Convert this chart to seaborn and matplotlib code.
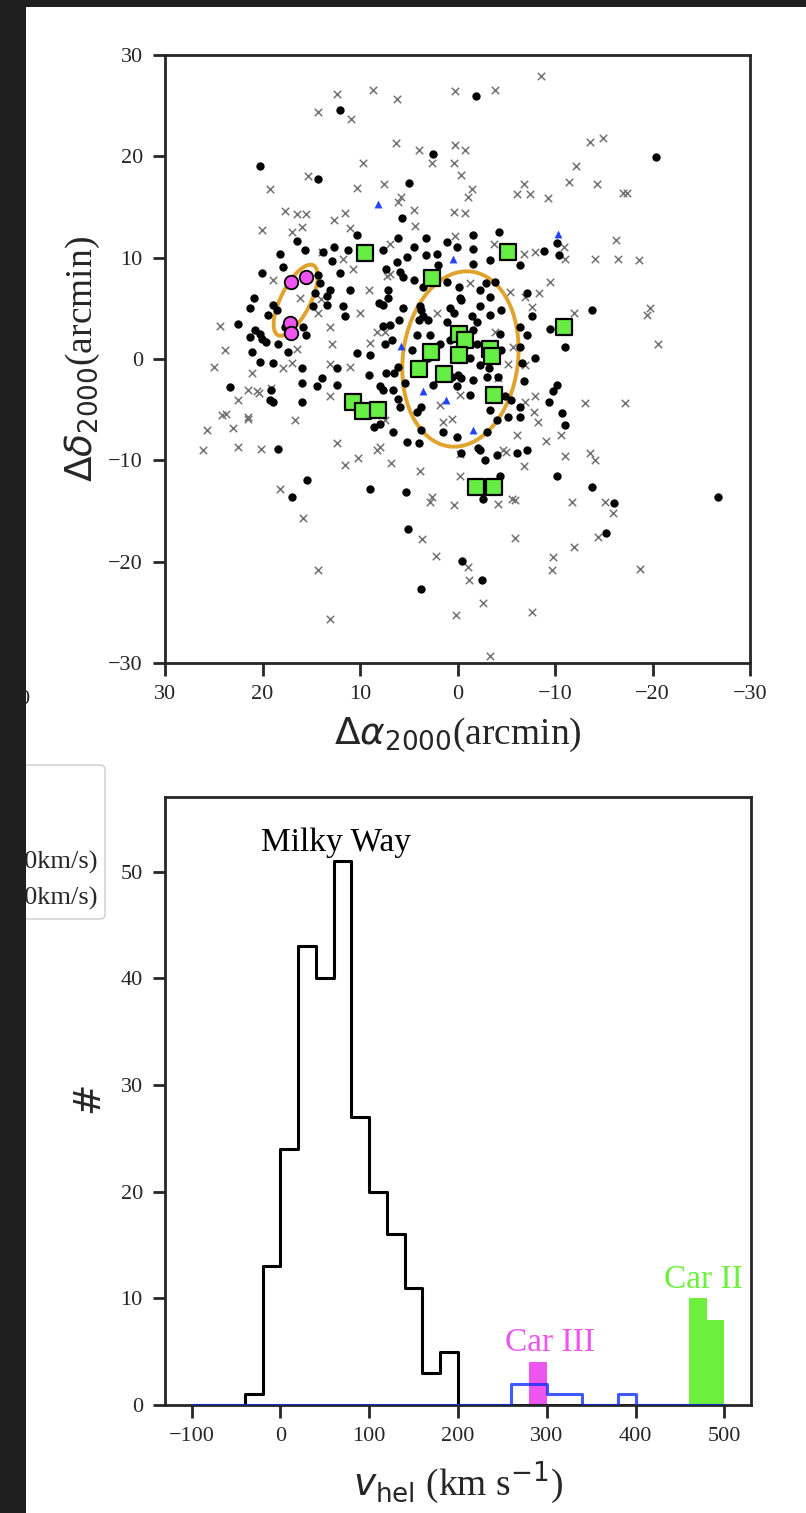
import numpy as np
import matplotlib
matplotlib.use("Agg")
import matplotlib.pyplot as plt
from matplotlib.patches import Ellipse, Rectangle, FancyBboxPatch
import seaborn as sns

# ---------------- top panel: sky positions (arcmin) ----------------
nonmember_xy = [
    (12.4, 26.2), (8.7, 26.5), (6.2, 25.7), (14.3, 24.4), (10.9, 23.7), (6.3, 21.3), (4.0, 20.6),
    (2.6, 19.3), (9.7, 19.3), (15.3, 18.1), (19.2, 16.8), (10.3, 16.9), (7.5, 17.3), (5.8, 16.0),
    (6.1, 15.5), (4.5, 14.7), (17.7, 14.6), (16.5, 14.3), (15.5, 14.3), (20.1, 12.7), (17.0, 12.5),
    (16.0, 13.0), (11.5, 14.4), (12.7, 13.7), (4.4, 13.1), (11.0, 12.9), (13.9, 10.6), (11.7, 9.9),
    (6.9, 11.3), (9.1, 6.8), (10.0, 4.5), (13.1, 3.2), (12.9, 1.5), (24.4, 3.3), (23.8, 0.9),
    (18.9, 7.8), (16.2, 6.0), (14.3, 4.5), (10.7, 8.9),
    (-8.6, 27.9), (0.3, 26.4), (-3.8, 26.5), (0.3, 21.1), (-0.8, 20.6), (0.4, 19.3), (-0.4, 18.2),
    (-1.5, 16.8), (-1.1, 16.0), (0.4, 14.5), (-0.8, 14.4), (-6.8, 17.3), (-6.1, 16.3), (-7.4, 16.3),
    (-9.3, 15.9), (-11.4, 17.5), (-12.2, 19.0), (-13.6, 21.4), (-14.9, 21.8), (-14.3, 17.3),
    (-17.0, 16.4), (-17.4, 16.4), (-16.3, 11.7), (-14.1, 9.9), (-16.5, 9.9), (-18.6, 9.8),
    (-3.7, 11.3), (0.3, 12.1), (-7.9, 10.6), (-11.0, 9.9), (-10.9, 11.1), (-6.8, 10.4),
    (-8.4, 6.5), (-9.5, 7.6), (-7.6, 5.1), (-11.9, 4.5), (-19.7, 5.0), (-19.4, 4.3), (-20.6, 1.5),
    (25.0, -0.8), (21.1, -1.4), (17.9, -0.9), (17.0, -0.4), (13.1, -0.5), (11.0, -0.8),
    (21.5, -3.1), (20.4, -3.4), (19.1, -2.9), (22.5, -4.0), (24.2, -5.5), (23.7, -5.4), (21.5, -5.9),
    (25.7, -7.0), (23.0, -6.8), (16.7, -6.0), (13.1, -3.7), (26.1, -9.0), (22.5, -8.7), (20.2, -8.9),
    (12.4, -8.3), (11.5, -10.5), (10.2, -9.8), (8.3, -9.0), (8.0, -8.7), (6.8, -10.3), (3.8, -11.1),
    (18.2, -12.8), (15.8, -15.7), (2.6, -13.6), (2.8, -14.1), (14.3, -20.8), (13.1, -25.7),
    (3.6, -17.8), (2.2, -19.4),
    (-7.9, -3.7), (-13.1, -4.3), (-17.2, -4.3), (-7.8, -5.2), (-8.3, -6.2), (-9.1, -8.1),
    (-10.6, -7.5), (-11.0, -9.6), (-13.6, -9.3), (-14.1, -10.0), (-6.8, -10.6), (-0.3, -11.5),
    (0.4, -14.4), (-4.2, -14.3), (-5.6, -13.8), (-5.9, -13.9), (-11.7, -14.1), (-15.1, -14.1),
    (-15.9, -15.2), (-14.4, -17.6), (-5.9, -17.7), (-11.9, -18.6), (-9.8, -19.5), (-9.7, -20.8),
    (-18.7, -20.7), (-1.1, -20.5), (-1.2, -21.8), (-2.6, -24.1), (0.2, -25.3), (-7.6, -25.0),
    (-3.3, -29.3), (-5.2, -0.5), (-5.0, -9.2), (-0.3, -9.4),
    (6.9, 8.4), (-1.3, 7.5), (-5.4, 6.6), (-6.9, 6.1), (7.4, 2.7), (-3.8, 2.7), (-5.7, 1.2),
    (-6.9, -0.6), (2.1, 4.5), (-4.2, -1.9), (-0.3, -3.6), (-6.9, -4.2), (1.5, -6.2), (0.6, -5.9),
    (-6.1, -7.5), (7.4, -6.0), (-4.7, -9.0), (1.8, -4.5),
    (16.5, 1.0), (9.0, 1.6), (8.3, 2.7), (7.2, 8.2), (14.0, 5.9), (21.5, -5.7), (20.6, -3.2),
]

star_xy = [
    (12.1, 24.6), (20.3, 19.0), (14.3, 17.8), (5.0, 17.4), (2.5, 20.2), (5.7, 13.9), (10.3, 12.2),
    (6.1, 11.9), (3.2, 11.9), (16.5, 11.6), (15.6, 10.8), (18.2, 10.4), (12.7, 11.1), (11.2, 10.8),
    (13.8, 10.6), (12.9, 9.7), (7.6, 10.8), (4.5, 11.1), (1.1, 11.5), (17.9, 9.1), (20.1, 8.5),
    (14.3, 8.3), (12.1, 8.5), (11.0, 6.8), (14.1, 7.5), (13.1, 6.8), (13.4, 6.2), (20.9, 6.0),
    (21.3, 5.0), (18.9, 5.3), (19.4, 4.3), (18.5, 4.8), (14.8, 5.2), (11.7, 5.2), (11.5, 4.2),
    (8.1, 5.5), (22.5, 3.5), (21.3, 2.2), (20.3, 2.5), (19.6, 1.7), (18.4, 1.5), (15.5, 2.4),
    (17.7, 3.2), (15.8, 3.2), (21.1, 0.7), (17.4, 0.7), (10.3, 0.6), (9.0, 0.4),
    (-1.9, 26.0), (-20.4, 19.9), (-4.3, 12.5), (-1.6, 12.2), (-1.6, 10.9), (0.1, 11.1),
    (-8.9, 10.7), (-10.2, 11.4), (-10.4, 10.3), (-13.8, 4.8), (-9.5, 3.0), (-11.0, 1.2),
    (-7.9, 0.1), (-7.6, 4.2),
    (20.3, -0.3), (18.9, -0.4), (16.0, -0.9), (16.0, -2.4), (12.4, -0.9), (13.9, -1.9),
    (14.4, -2.7), (12.4, -2.6), (9.1, -1.6), (23.3, -2.8), (19.2, -4.0), (18.9, -4.2), (16.0, -4.2),
    (8.6, -6.7), (8.0, -6.4), (18.4, -8.9), (15.4, -11.9), (17.0, -13.6), (9.0, -12.8),
    (5.3, -13.1), (5.1, -16.8), (3.7, -22.7),
    (-10.2, -2.6), (-9.8, -3.2), (-9.4, -4.2), (-10.7, -5.3), (-11.0, -6.5), (-10.2, -11.5),
    (-13.8, -12.6), (-16.0, -14.2), (-15.2, -17.2), (-26.7, -13.6), (-0.5, -19.9), (-2.5, -21.8),
    (-2.6, -13.8), (-2.8, -10.0), (-4.4, -11.5),
    (5.2, 10.1), (3.2, 10.3), (2.0, 9.3), (-1.6, 9.4), (-3.3, 9.8), (-6.4, 9.3), (7.3, 8.9),
    (5.9, 8.6), (4.5, 7.8), (3.5, 7.1), (1.1, 7.6), (-0.2, 7.1), (-2.3, 6.8), (-2.9, 7.5),
    (-3.8, 7.6), (7.1, 6.8), (7.6, 5.3), (5.6, 5.0), (3.7, 4.8), (3.0, 3.8), (0.8, 5.0),
    (0.4, 4.5), (-0.4, 5.8), (-2.3, 5.2), (-3.3, 6.1), (-4.5, 4.8), (-7.1, 6.5), (-6.4, 3.2),
    (6.9, 3.4), (4.0, 3.8), (1.1, 3.7), (-1.6, 2.9), (-2.0, 3.7), (7.4, 1.5), (4.7, 0.9),
    (4.2, 2.4), (2.8, 2.4), (1.8, 1.5), (0.8, 1.9), (-2.0, 1.5), (-4.4, 2.5), (-4.5, 0.9),
    (-6.4, 1.2), (-7.1, 2.4), (7.3, -1.4), (6.1, -0.8), (3.0, 0.1), (-1.3, 0.1), (-2.3, -0.6),
    (-0.1, -1.6), (-0.4, -1.9), (-1.6, -2.1), (-3.0, -1.8), (-4.2, -1.8), (-6.8, -2.2),
    (7.9, -2.7), (6.6, -3.1), (5.4, -2.4), (2.5, -2.6), (-1.3, -3.6), (0.1, -2.7), (-4.9, -3.7),
    (-6.4, -4.7), (5.9, -4.7), (4.2, -5.2), (3.7, -4.7), (-3.3, -5.0), (-5.2, -5.7), (-6.4, -5.7),
    (-4.0, -6.0), (6.6, -7.2), (3.7, -7.0), (1.5, -7.2), (0.1, -7.7), (-3.0, -7.2), (5.2, -8.2),
    (3.9, -8.3), (-2.3, -9.0), (-4.0, -9.5), (-6.1, -9.3), (-7.1, -9.0), (-0.4, -9.3),
    (20.1, 2.0), (14.6, 6.5), (13.4, 5.3), (7.1, 6.0), (6.0, 3.8), (7.6, 3.3), (6.7, 1.9),
    (19.1, -3.1), (7.6, -3.1), (6.5, -1.4), (6.1, -3.9), (20.8, 2.9), (6.2, 9.6), (2.1, 10.4),
    (5.6, 8.1), (3.8, 5.2), (3.5, 4.2), (-0.3, 6.0), (-3.3, 4.3), (-1.5, 4.2), (-6.6, -0.4),
    (-5.5, -4.0), (-2.1, -8.8), (0.6, -1.8), (-3.2, -0.9),
]

blue_xy = [(8.2, 15.3), (0.5, 9.9), (-10.3, 12.3), (5.8, 1.3), (3.5, -3.2), (1.2, -4.0), (-1.6, -7.0)]

car2_xy = [
    (9.5, 10.5), (2.6, 8.0), (-5.2, 10.6), (-10.9, 3.2), (-0.2, 2.5), (-0.8, 1.9), (2.7, 0.7),
    (-0.2, 0.4), (-3.3, 1.0), (-3.5, 0.3), (3.9, -1.0), (1.4, -1.5), (-3.7, -3.6), (10.7, -4.2),
    (9.7, -5.1), (8.2, -5.0), (-1.9, -12.6), (-3.7, -12.6),
]

car3_xy = [(17.1, 7.6), (15.5, 8.1), (17.2, 3.6), (17.1, 2.6)]

# half-light ellipses: centre, full width, full height, angle (deg)
car2_ellipse = ((-0.3, 0.0), 11.8, 17.4, 8.0)
car3_ellipse = ((16.6, 5.8), 3.0, 7.8, 28.0)

# ---------------- bottom panel: velocity histograms ----------------
vhel_edges = list(range(-100, 501, 20))
mw_counts = [0, 0, 0, 1, 13, 24, 43, 40, 51, 27, 20, 16, 11, 3, 5,
             0, 0, 0, 0, 0, 0, 0, 0, 0, 0, 0, 0, 0, 0, 0]
blue_counts = [0, 0, 0, 0, 0, 0, 0, 0, 0, 0, 0, 0, 0, 0, 0,
               0, 0, 0, 2, 2, 1, 1, 0, 0, 1, 0, 0, 0, 0, 0]
car3_edges = [280, 300]
car3_counts = [4]
car2_edges = [460, 480, 500]
car2_counts = [10, 8]

green = "#6cf03c"
pink = "#ee55ee"

sns.set_style("ticks")
plt.rcParams["font.family"] = ["Liberation Serif", "DejaVu Serif"]
plt.rcParams["mathtext.fontset"] = "dejavusans"
plt.rcParams["axes.linewidth"] = 2.0

fig = plt.figure(figsize=(8.06, 15.13), dpi=100)
fig.patch.set_facecolor("white")

W, H = 806.0, 1513.0
ax1 = fig.add_axes([165 / W, 1 - 663 / H, 585 / W, 608 / H])
ax2 = fig.add_axes([165 / W, 1 - 1405 / H, 586 / W, 608 / H])

nm = np.array(nonmember_xy)
st = np.array(star_xy)
bl = np.array(blue_xy)
c2 = np.array(car2_xy)
c3 = np.array(car3_xy)

sns.scatterplot(x=nm[:, 0], y=nm[:, 1], marker="x", color="0.45", s=28, linewidth=1.1, ax=ax1, zorder=1)
for (cen, w, h, ang) in [car2_ellipse, car3_ellipse]:
    ax1.add_patch(Ellipse(cen, w, h, angle=ang, fill=False, edgecolor="#e0a32e", linewidth=2.8, zorder=2))
sns.scatterplot(x=st[:, 0], y=st[:, 1], marker="o", color="black", s=36, linewidth=0, ax=ax1, zorder=3)
sns.scatterplot(x=bl[:, 0], y=bl[:, 1], marker="^", color="#2244ff", s=32, linewidth=0, ax=ax1, zorder=4)
sns.scatterplot(x=c2[:, 0], y=c2[:, 1], marker="s", color="#66ee44", edgecolor="black", s=140,
                linewidth=1.6, ax=ax1, zorder=5)
sns.scatterplot(x=c3[:, 0], y=c3[:, 1], marker="o", color=pink, edgecolor="black", s=95,
                linewidth=1.3, ax=ax1, zorder=6)

ax1.set_xlim(30, -30)
ax1.set_ylim(-30, 30)
ax1.set_xticks([30, 20, 10, 0, -10, -20, -30])
ax1.set_yticks([-30, -20, -10, 0, 10, 20, 30])
ax1.set_xlabel(r"$\Delta\alpha_{2000}$(arcmin)", fontsize=27, labelpad=8)
ax1.set_ylabel(r"$\Delta\delta_{2000}$(arcmin)", fontsize=27, labelpad=4)

# bottom histogram
centres = [e + 10 for e in vhel_edges[:-1]]
sns.histplot(x=[470, 490], weights=car2_counts, bins=car2_edges, element="bars", fill=True,
             color=green, alpha=1, linewidth=0, ax=ax2, zorder=1)
sns.histplot(x=[290], weights=car3_counts, bins=car3_edges, element="bars", fill=True,
             color=pink, alpha=1, linewidth=0, ax=ax2, zorder=1)
sns.histplot(x=centres, weights=mw_counts, bins=vhel_edges, element="step", fill=False,
             color="black", linewidth=2.2, ax=ax2, zorder=2)
sns.histplot(x=centres, weights=blue_counts, bins=vhel_edges, element="step", fill=False,
             color="#1030ff", alpha=0.8, linewidth=2.2, ax=ax2, zorder=3)

ax2.text(63, 51.9, "Milky Way", ha="center", va="baseline", fontsize=24, color="black")
ax2.text(304, 5.1, "Car III", ha="center", va="baseline", fontsize=24, color=pink)
ax2.text(476, 11.0, "Car II", ha="center", va="baseline", fontsize=24, color=green)

ax2.set_xlim(-130, 530)
ax2.set_ylim(0, 57)
ax2.set_xticks([-100, 0, 100, 200, 300, 400, 500])
ax2.set_yticks([0, 10, 20, 30, 40, 50])
ax2.set_xlabel(r"$v_{\rm hel}$ (km s$^{-1}$)", fontsize=27, labelpad=10)
ax2.set_ylabel(r"$\#$", fontsize=27, labelpad=8)

for ax in (ax1, ax2):
    ax.tick_params(direction="out", length=9, width=2, labelsize=16, pad=7)
    for sp in ax.spines.values():
        sp.set_visible(True)
        sp.set_linewidth(2.0)

# fragment of the neighbouring panel that the crop cuts through
fig.add_artist(FancyBboxPatch((-0.6, (H - 919) / 100), 1.65, 1.54,
                              boxstyle="round,pad=0,rounding_size=0.05",
                              transform=fig.dpi_scale_trans, facecolor="white",
                              edgecolor="#cccccc", linewidth=1.0, zorder=5))
fig.text(0.97, (H - 862) / 100, "00km/s)", ha="right", va="center",
         fontsize=19, transform=fig.dpi_scale_trans, zorder=6)
fig.text(0.97, (H - 898) / 100, "00km/s)", ha="right", va="center",
         fontsize=19, transform=fig.dpi_scale_trans, zorder=6)
fig.text(0.31, (H - 699) / 100, "30", ha="right", va="center",
         fontsize=16, transform=fig.dpi_scale_trans, zorder=6)

dark = "#1f1f1f"
fig.add_artist(Rectangle((0, 0), 26 / W, 1, transform=fig.transFigure, facecolor=dark,
                         edgecolor="none", zorder=20))
fig.add_artist(Rectangle((0, 1 - 7 / H), 1, 7 / H, transform=fig.transFigure, facecolor=dark,
                         edgecolor="none", zorder=20))

fig.savefig("out.png", dpi=100, facecolor=fig.get_facecolor())
